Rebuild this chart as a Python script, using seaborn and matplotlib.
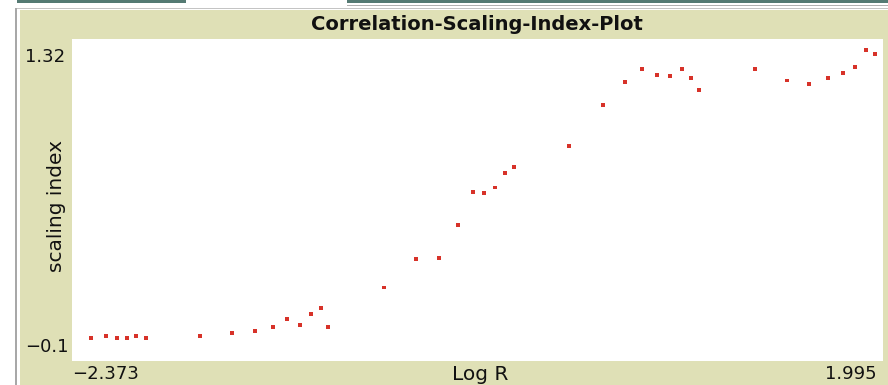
import matplotlib
matplotlib.use("Agg")
import matplotlib.pyplot as plt
from matplotlib.patches import Rectangle
import seaborn as sns
import pandas as pd

# log-radius values and the matching correlation scaling index
log_r = [-2.271, -2.190, -2.129, -2.078, -2.027, -1.976, -1.684, -1.511, -1.389,
         -1.289, -1.217, -1.145, -1.086, -1.034, -0.994, -0.691, -0.519, -0.396,
         -0.296, -0.213, -0.154, -0.093, -0.041, 0.009, 0.304, 0.485, 0.607,
         0.697, 0.778, 0.849, 0.911, 0.961, 1.002, 1.306, 1.478, 1.598, 1.700,
         1.781, 1.843, 1.903, 1.954]
scaling_index = [0.000, 0.009, 0.000, 0.000, 0.009, 0.000, 0.009, 0.025, 0.034,
                 0.051, 0.084, 0.059, 0.107, 0.134, 0.050, 0.224, 0.349, 0.356,
                 0.499, 0.647, 0.640, 0.665, 0.731, 0.756, 0.848, 1.030, 1.130,
                 1.188, 1.162, 1.155, 1.188, 1.146, 1.096, 1.188, 1.137, 1.121,
                 1.146, 1.171, 1.196, 1.271, 1.254]

x_range = (-2.373, 1.995)
y_range = (-0.1, 1.32)
x_tick_labels = ["-2.373", "1.995"]
y_tick_labels = ["1.32", "-0.1"]
title = "Correlation-Scaling-Index-Plot"
x_label = "Log R"
y_label = "scaling index"

df = pd.DataFrame({"Log R": log_r, "scaling index": scaling_index})

W, H = 888, 385
fig = plt.figure(figsize=(W / 100, H / 100), dpi=100)
fig.patch.set_facecolor("white")


def px(x, y):
    """Pixel position (from top-left) to figure fraction."""
    return x / W, 1 - y / H


def band(x, y, w, h, color):
    """Flat rectangle in pixel units, drawn behind the axes."""
    fig.patches.append(Rectangle((x / W, 1 - (y + h) / H), w / W, h / H,
                                 transform=fig.transFigure, facecolor=color,
                                 edgecolor="none", zorder=-10))


panel = "#dfe0b6"
teal = "#547a73"

# window chrome: tab bars, frame lines and the beige plot panel
band(17, 0, 169, 3, teal)
band(347, 0, 541, 3, teal)
band(347, 4.5, 541, 1.5, "#b0b0b0")
band(15, 8, 873, 1.2, "#c4c4c4")
band(15, 8, 2, 377, "#a8a8a8")
band(20, 10, 868, 375, panel)

# white plotting area
left, top, right, bottom = 72, 39, 883, 361
ax = fig.add_axes([left / W, 1 - bottom / H, (right - left) / W, (bottom - top) / H])
ax.set_facecolor("white")
sns.scatterplot(data=df, x="Log R", y="scaling index", ax=ax, marker="s", s=8,
                color="#d73229", edgecolor="none", linewidth=0)
ax.set_xlim(*x_range)
ax.set_ylim(*y_range)
ax.set_xticks([])
ax.set_yticks([])
ax.set_xlabel("")
ax.set_ylabel("")
for sp in ax.spines.values():
    sp.set_visible(False)

font = "DejaVu Sans"
num_fs = 13
txt_fs = 14.5
ink = "#111111"
fig.text(*px(477, 24), title, ha="center", va="center", fontsize=14,
         family=font, fontweight="bold", color=ink)
fig.text(*px(25, 57), y_tick_labels[0], ha="left", va="center", fontsize=num_fs,
         family=font, color=ink)
fig.text(*px(25, 347), y_tick_labels[1].replace("-", "\u2212"), ha="left",
         va="center", fontsize=num_fs, family=font, color=ink)
fig.text(*px(72, 374), x_tick_labels[0].replace("-", "\u2212"), ha="left",
         va="center", fontsize=num_fs, family=font, color=ink)
fig.text(*px(877, 374), x_tick_labels[1], ha="right", va="center", fontsize=num_fs,
         family=font, color=ink)
fig.text(*px(480, 374), x_label, ha="center", va="center", fontsize=txt_fs,
         family=font, color=ink)
fig.text(*px(56, 206), y_label, ha="center", va="center", rotation=90,
         fontsize=txt_fs, family=font, color=ink)

fig.savefig("out.png", dpi=100, facecolor=fig.get_facecolor())
